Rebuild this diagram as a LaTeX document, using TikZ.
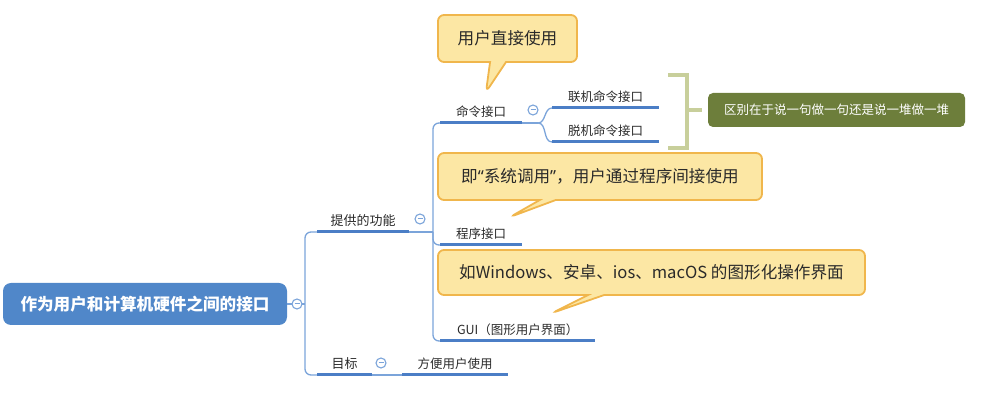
\documentclass[tikz,border=0pt]{standalone}
\usepackage{fontspec}
\setmainfont{Noto Sans CJK SC}
\newfontfamily\latinq{Noto Sans}
\usetikzlibrary{shapes.callouts}
\definecolor{txt}{HTML}{2A2A2A}
\definecolor{lnk}{HTML}{7BA4DA}
\definecolor{uln}{HTML}{4B7EC6}
\definecolor{rootblue}{HTML}{5087C9}
\definecolor{callfill}{HTML}{FCE7A4}
\definecolor{calldraw}{HTML}{F0B64C}
\definecolor{olive}{HTML}{6D7E3B}
\definecolor{brkcol}{HTML}{C8CF9B}
\tikzset{
    every node/.style={font=\fontsize{12.5}{14}\selectfont, text=txt},
    topic/.style={anchor=south west, inner xsep=0pt, inner ysep=4.5pt,
        text height=9.5pt, text depth=2pt, minimum width=#1},
    link/.style={draw=lnk, line width=1.3pt},
    uline/.style={draw=uln, line width=3pt},
    fold/.style={circle, draw=lnk, fill=white, line width=1.1pt,
        minimum size=10pt, inner sep=0pt,
        path picture={\draw[lnk, line width=1pt]
            ([xshift=2.5pt]path picture bounding box.west) --
            ([xshift=-2.5pt]path picture bounding box.east);}},
    bubble/.style={rectangle callout, rounded corners=6pt, draw=calldraw,
        fill=callfill, line width=1.8pt, inner xsep=0pt,
        callout pointer width=16pt, font=\fontsize{16.6}{18}\selectfont}
}
\begin{document}
\begin{tikzpicture}[x=1pt, y=-1pt]
	\useasboundingbox (0,0) rectangle (986,411);
	\node [fill=rootblue, rounded corners=8pt, minimum width=284pt,
		minimum height=42pt, text=white,
		font=\fontsize{16.6}{20}\selectfont\bfseries] (root) at (145,304)
		{作为用户和计算机硬件之间的接口};
	\node [topic=92pt, font=\fontsize{13}{15}\selectfont] (fn) at (317,232) {提供的功能};
	\node [topic=55pt, font=\fontsize{13}{15}\selectfont] (goal) at (317,375) {目标};
	\node [topic=106pt] (use) at (402,375) {方便用户使用};
	\node [topic=82pt] (cmd) at (440,123) {命令接口};
	\node [topic=82pt] (prog) at (440,245) {程序接口};
	\node [topic=155pt] (gui) at (440,341) {GUI（图形用户界面）};
	\node [topic=107pt] (on) at (552,108) {联机命令接口};
	\node [topic=107pt] (off) at (552,142) {脱机命令接口};
	\node [fill=olive, rounded corners=5pt, minimum width=257pt,
		minimum height=34pt, text=white] (note) at (836.5,110)
		{区别在于说一句做一句还是说一堆做一堆};
	\node [bubble, minimum width=139pt, minimum height=47pt,
		callout absolute pointer={(486,92)}] (b1) at (507.5,38.5) {用户直接使用};
	\node [bubble, minimum width=324pt, minimum height=47pt,
		callout absolute pointer={(510,217)}] (b2) at (600,176.5)
		{即{\latinq“}系统调用{\latinq”}，用户通过程序间接使用};
	\node [bubble, minimum width=427pt, minimum height=45pt,
		callout absolute pointer={(552,313)}] (b3) at (651.5,272.5)
		{如Windows、安卓、ios、macOS 的图形化操作界面};
	\coordinate (j0) at (305,304);
	\coordinate (j1) at (433,232);
	\coordinate (j2) at (538,123);
	\draw[link] (root.east) -- (j0);
	\draw[link, rounded corners=6pt] (fn.south west) -| (j0) |- (goal.south west);
	\draw[link] (fn.south east) -- (j1);
	\draw[link, rounded corners=6pt] (cmd.south west) -| (j1) |- (gui.south west);
	\draw[link, rounded corners=6pt] (j1) |- (prog.south west);
	\draw[link] (cmd.south east) -- (j2);
	\draw[link] (j2) to[out=0, in=180] (on.south west);
	\draw[link] (j2) to[out=0, in=180] (off.south west);
	\draw[link] (goal.south east) -- (use.south west);
	\foreach \n in {fn,goal,use,cmd,prog,gui,on,off}
		\draw[uline] (\n.south west) -- (\n.south east);
	\node [fold] (c0) at (297,304) {};
	\node [fold] (c1) at (420,219) {};
	\node [fold] (c2) at (533,110) {};
	\node [fold] (c3) at (381,363) {};
	\draw[draw=brkcol, line width=4.5pt] (668,75) -- (687,75) -- (687,148) -- (668,148);
	\draw[draw=brkcol, line width=4.5pt] (687,110) -- ([xshift=-6pt]note.west);
\end{tikzpicture}
\end{document}
